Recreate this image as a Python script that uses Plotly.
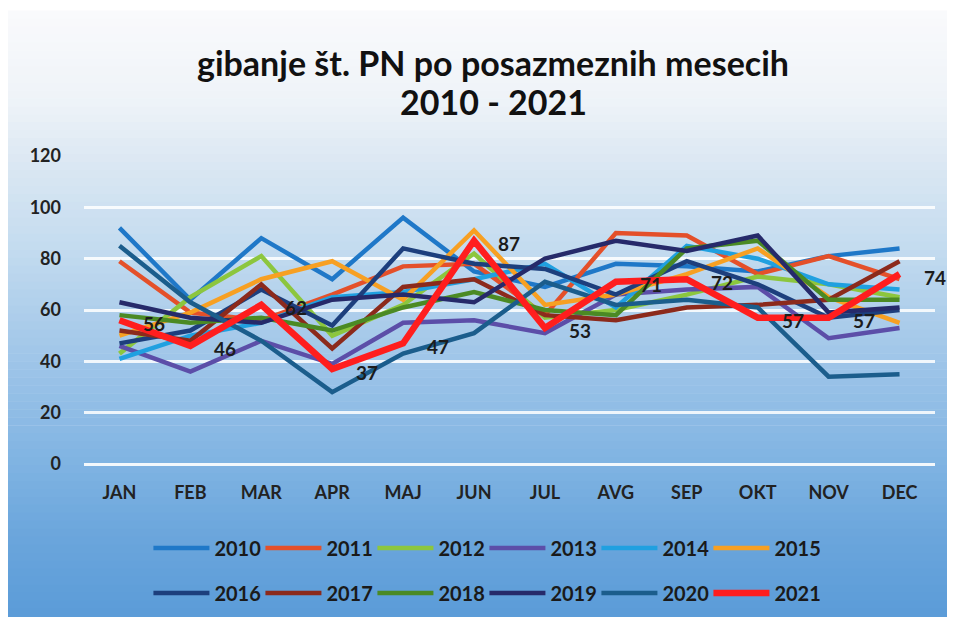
import plotly.graph_objects as go

months = ["JAN", "FEB", "MAR", "APR", "MAJ", "JUN", "JUL", "AVG", "SEP", "OKT", "NOV", "DEC"]
years = ["2010", "2011", "2012", "2013", "2014", "2015", "2016", "2017", "2018", "2019", "2020", "2021"]

v2010 = [92, 64, 88, 72, 96, 75, 69, 78, 77, 75, 81, 84]
v2011 = [79, 59, 56, 66, 77, 78, 58, 90, 89, 74, 81, 72]
v2012 = [43, 65, 81, 50, 62, 82, 57, 60, 66, 73, 70, 65]
v2013 = [46, 36, 48, 39, 55, 56, 51, 66, 68, 69, 49, 53]
v2014 = [41, 50, 55, 65, 67, 72, 78, 61, 85, 80, 70, 68]
v2015 = [50, 59, 72, 79, 64, 91, 62, 66, 74, 84, 65, 55]
v2016 = [47, 52, 68, 54, 84, 78, 76, 66, 79, 70, 57, 60]
v2017 = [52, 48, 70, 45, 69, 72, 58, 56, 61, 62, 64, 79]
v2018 = [58, 55, 57, 52, 61, 67, 60, 58, 84, 87, 64, 64]
v2019 = [63, 57, 55, 64, 66, 63, 80, 87, 83, 89, 59, 61]
v2020 = [85, 63, 48, 28, 43, 51, 71, 62, 64, 61, 34, 35]
v2021 = [56, 46, 62, 37, 47, 87, 53, 71, 72, 57, 57, 74]

series = [v2010, v2011, v2012, v2013, v2014, v2015, v2016, v2017, v2018, v2019, v2020, v2021]
colors = ["#1f78c8", "#e4502a", "#8cc63e", "#5c4ea8", "#20a0e0", "#f7a023",
          "#1d3f7d", "#8c2a1c", "#4b8a24", "#262a6a", "#1b5d8c", "#ff1e1e"]

# page body has an 8px margin: design in figure pixels = screen pixels - 8
OFF = 8
W, H = 947, 615
L, R, T, B = 75.5, 19.5, 148, 158

fig = go.Figure()
for i, (yr, vals) in enumerate(zip(years, series)):
    fig.add_trace(go.Scatter(
        x=months, y=vals, name=yr, mode="lines",
        line=dict(color=colors[i], width=6.5 if yr == "2021" else 4.5),
        legend="legend" if i < 6 else "legend2",
    ))

pw, ph = W - L - R, H - T - B
def px2paperx(sx):
    return (sx - OFF - L) / pw
def px2papery(sy):
    return (H - B - (sy - OFF)) / ph

annotations = []
for m, v in zip(months, v2021):
    annotations.append(dict(x=m, y=v, xref="x", yref="y", text=str(v), showarrow=False,
                            xshift=35, yshift=-3,
                            font=dict(family="Lato", size=19, color="#1c1c1c", weight="bold")))

annotations.append(dict(text="2010 - 2021", xref="paper", yref="paper", showarrow=False,
                        x=px2paperx(493), y=px2papery(101), xanchor="center", yanchor="middle",
                        font=dict(family="Lato", size=34, color="#111111", weight="bold")))

# background gradient (decorative)
stops = [(10, (249, 250, 252)), (100, (238, 243, 248)), (160, (220, 232, 243)),
         (250, (195, 219, 239)), (350, (162, 199, 233)), (465, (127, 179, 226)),
         (540, (106, 165, 220)), (618, (91, 155, 216))]
def col_at(py):
    for (a, ca), (b, cb) in zip(stops[:-1], stops[1:]):
        if a <= py <= b:
            t = (py - a) / (b - a)
            c = [round(ca[k] + (cb[k] - ca[k]) * t) for k in range(3)]
            return "rgb(%d,%d,%d)" % tuple(c)
    return "rgb(%d,%d,%d)" % stops[-1][1]

shapes = []
nb = 76
top, bot = 10, 618
for k in range(nb):
    y0 = top + (bot - top) * k / nb
    y1 = top + (bot - top) * (k + 1) / nb
    shapes.append(dict(type="rect", xref="paper", yref="paper", layer="below",
                       x0=px2paperx(7), x1=px2paperx(948),
                       y0=px2papery(y1 + 0.5), y1=px2papery(y0),
                       fillcolor=col_at((y0 + y1) / 2), line=dict(width=0)))

legend_common = dict(orientation="h", xanchor="left", yanchor="middle",
                     bgcolor="rgba(0,0,0,0)", itemwidth=56, entrywidth=41, tracegroupgap=0,
                     font=dict(family="Lato", size=20, color="#1a1a1a", weight="bold"))

fig.update_layout(
    width=W, height=H, autosize=False,
    margin=dict(l=L, r=R, t=T, b=B),
    paper_bgcolor="white", plot_bgcolor="rgba(0,0,0,0)",
    title=dict(text="gibanje št. PN po posazmeznih mesecih",
               x=(493 - OFF) / W, xanchor="center", xref="container",
               y=1 - (64 - OFF) / H, yanchor="middle", yref="container",
               font=dict(family="Lato", size=34, color="#111111", weight="bold")),
    xaxis=dict(type="category", range=[-0.5, 11.5], showgrid=False, zeroline=False,
               showline=False, ticks="", ticklabelstandoff=16,
               tickfont=dict(family="Lato", size=18, color="#222222", weight="bold")),
    yaxis=dict(range=[0, 120], tickvals=[0, 20, 40, 60, 80, 100, 120],
               showgrid=True, gridcolor="rgba(255,255,255,0.85)", gridwidth=3,
               zeroline=True, zerolinecolor="rgba(255,255,255,0.9)", zerolinewidth=3,
               showline=False, ticks="", ticklabelstandoff=22,
               tickfont=dict(family="Lato", size=18, color="#222222", weight="bold")),
    legend=dict(x=px2paperx(148), y=px2papery(548), **legend_common),
    legend2=dict(x=px2paperx(148), y=px2papery(593), **legend_common),
    annotations=annotations,
    shapes=shapes,
)

fig.write_html("out.html")
